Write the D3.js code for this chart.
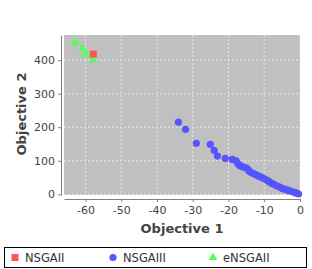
<!DOCTYPE html>
<html>
<head>
    <meta charset="utf-8">
    <style>
        body { margin: 0; background-color: #ffffff; }
        svg { display: block; }
        .tick text { font-family: "DejaVu Sans", sans-serif; font-size: 11px; fill: #444444; }
        .axis-title { font-family: "DejaVu Sans", sans-serif; font-size: 13px; font-weight: bold; fill: #444444; }
        .legend-text { font-family: "DejaVu Sans", sans-serif; font-size: 11.5px; fill: #333333; }
    </style>
</head>
<body>
    <div id="chart"></div>
    <script src="https://d3js.org/d3.v7.min.js"></script>
    <script>
        var seriesNames = ["NSGAII", "NSGAIII", "eNSGAII"];
        var seriesColors = ["#ff5555", "#5555ff", "#55ff55"];

        var nsgaii = [[-57.8, 418]];
        var nsgaiii = [
            [-34.0, 215], [-32.0, 194], [-29.0, 152], [-25.1, 149], [-24.0, 131],
            [-23.1, 114], [-20.9, 107], [-18.9, 104], [-17.9, 100], [-17.4, 92],
            [-17.0, 87], [-16.5, 84], [-16.0, 82], [-15.4, 80], [-14.9, 78],
            [-14.4, 72], [-14.0, 67], [-13.4, 64], [-12.9, 61], [-12.3, 58],
            [-11.7, 55], [-11.0, 52], [-10.3, 48], [-9.7, 45], [-9.1, 41],
            [-8.5, 37], [-7.9, 33], [-7.3, 30], [-6.7, 26], [-6.0, 23],
            [-5.4, 20], [-4.8, 17], [-4.2, 15], [-3.6, 13], [-3.0, 11],
            [-2.4, 9], [-1.9, 7], [-1.3, 5], [-0.8, 3], [-0.4, 1]
        ];
        var ensgaii = [[-62.9, 453], [-60.9, 434], [-59.9, 418], [-57.8, 402]];

        var xTicks = [-60, -50, -40, -30, -20, -10, 0];
        var yTicks = [0, 100, 200, 300, 400];

        var width = 312, height = 269;
        var svg = d3.select("#chart").append("svg")
            .attr("width", width)
            .attr("height", height);

        var x = d3.scaleLinear().domain([-66, 0]).range([64, 300]);
        var y = d3.scaleLinear().domain([-2, 475]).range([195, 35]);

        // plot background
        svg.append("rect")
            .attr("x", 64).attr("y", 35)
            .attr("width", 236).attr("height", 160)
            .attr("fill", "#c0c0c0");

        // grid lines
        svg.append("g").selectAll("line").data(xTicks).enter().append("line")
            .attr("x1", d => x(d)).attr("x2", d => x(d))
            .attr("y1", 35).attr("y2", 195)
            .attr("stroke", "#ffffff").attr("stroke-width", 0.6)
            .attr("stroke-dasharray", "2,2");
        svg.append("g").selectAll("line").data(yTicks).enter().append("line")
            .attr("x1", 64).attr("x2", 300)
            .attr("y1", d => y(d)).attr("y2", d => y(d))
            .attr("stroke", "#ffffff").attr("stroke-width", 0.6)
            .attr("stroke-dasharray", "2,2");

        // axes (plain hyphen for negatives, like the original)
        var fmt = d => String(d);
        var xAxis = svg.append("g")
            .attr("transform", "translate(0,199)")
            .call(d3.axisBottom(x).tickValues(xTicks).tickFormat(fmt)
                .tickSize(3).tickSizeOuter(0).tickPadding(4));
        var yAxis = svg.append("g")
            .attr("transform", "translate(61,0)")
            .call(d3.axisLeft(y).tickValues(yTicks).tickFormat(fmt)
                .tickSize(3).tickSizeOuter(0).tickPadding(3));
        [xAxis, yAxis].forEach(function (a) {
            a.select(".domain").attr("stroke", "#808080");
            a.selectAll(".tick line").attr("stroke", "#808080");
        });

        svg.append("text").attr("class", "axis-title")
            .attr("x", 182).attr("y", 233)
            .attr("text-anchor", "middle")
            .text("Objective 1");
        svg.append("text").attr("class", "axis-title")
            .attr("transform", "translate(26,114) rotate(-90)")
            .attr("text-anchor", "middle")
            .text("Objective 2");

        // points: last series underneath, first on top
        var plot = svg.append("g");
        var tri = d3.symbol().type(d3.symbolTriangle).size(34);
        plot.selectAll("path.tri").data(ensgaii).enter().append("path")
            .attr("class", "tri")
            .attr("d", tri)
            .attr("transform", d => "translate(" + x(d[0]) + "," + y(d[1]) + ")")
            .attr("fill", seriesColors[2]);
        plot.selectAll("circle").data(nsgaiii).enter().append("circle")
            .attr("cx", d => x(d[0])).attr("cy", d => y(d[1]))
            .attr("r", 3.6).attr("fill", seriesColors[1]);
        plot.selectAll("rect.sq").data(nsgaii).enter().append("rect")
            .attr("class", "sq")
            .attr("x", d => x(d[0]) - 3.5).attr("y", d => y(d[1]) - 3.5)
            .attr("width", 7).attr("height", 7)
            .attr("fill", seriesColors[0]);

        // legend
        var lg = svg.append("g");
        lg.append("rect")
            .attr("x", 4.5).attr("y", 247.5)
            .attr("width", 302).attr("height", 20)
            .attr("fill", "#ffffff").attr("stroke", "#000000");
        var legendX = [15, 113, 213];
        seriesNames.forEach(function (name, i) {
            var cx = legendX[i], cy = 257.5;
            if (i === 0) {
                lg.append("rect").attr("x", cx - 3.5).attr("y", cy - 3.5)
                    .attr("width", 7).attr("height", 7).attr("fill", seriesColors[i]);
            } else if (i === 1) {
                lg.append("circle").attr("cx", cx).attr("cy", cy).attr("r", 3.6)
                    .attr("fill", seriesColors[i]);
            } else {
                lg.append("path").attr("d", tri)
                    .attr("transform", "translate(" + cx + "," + cy + ")")
                    .attr("fill", seriesColors[i]);
            }
            lg.append("text").attr("class", "legend-text")
                .attr("x", cx + 10).attr("y", cy + 4.5)
                .text(name);
        });
    </script>
</body>
</html>
